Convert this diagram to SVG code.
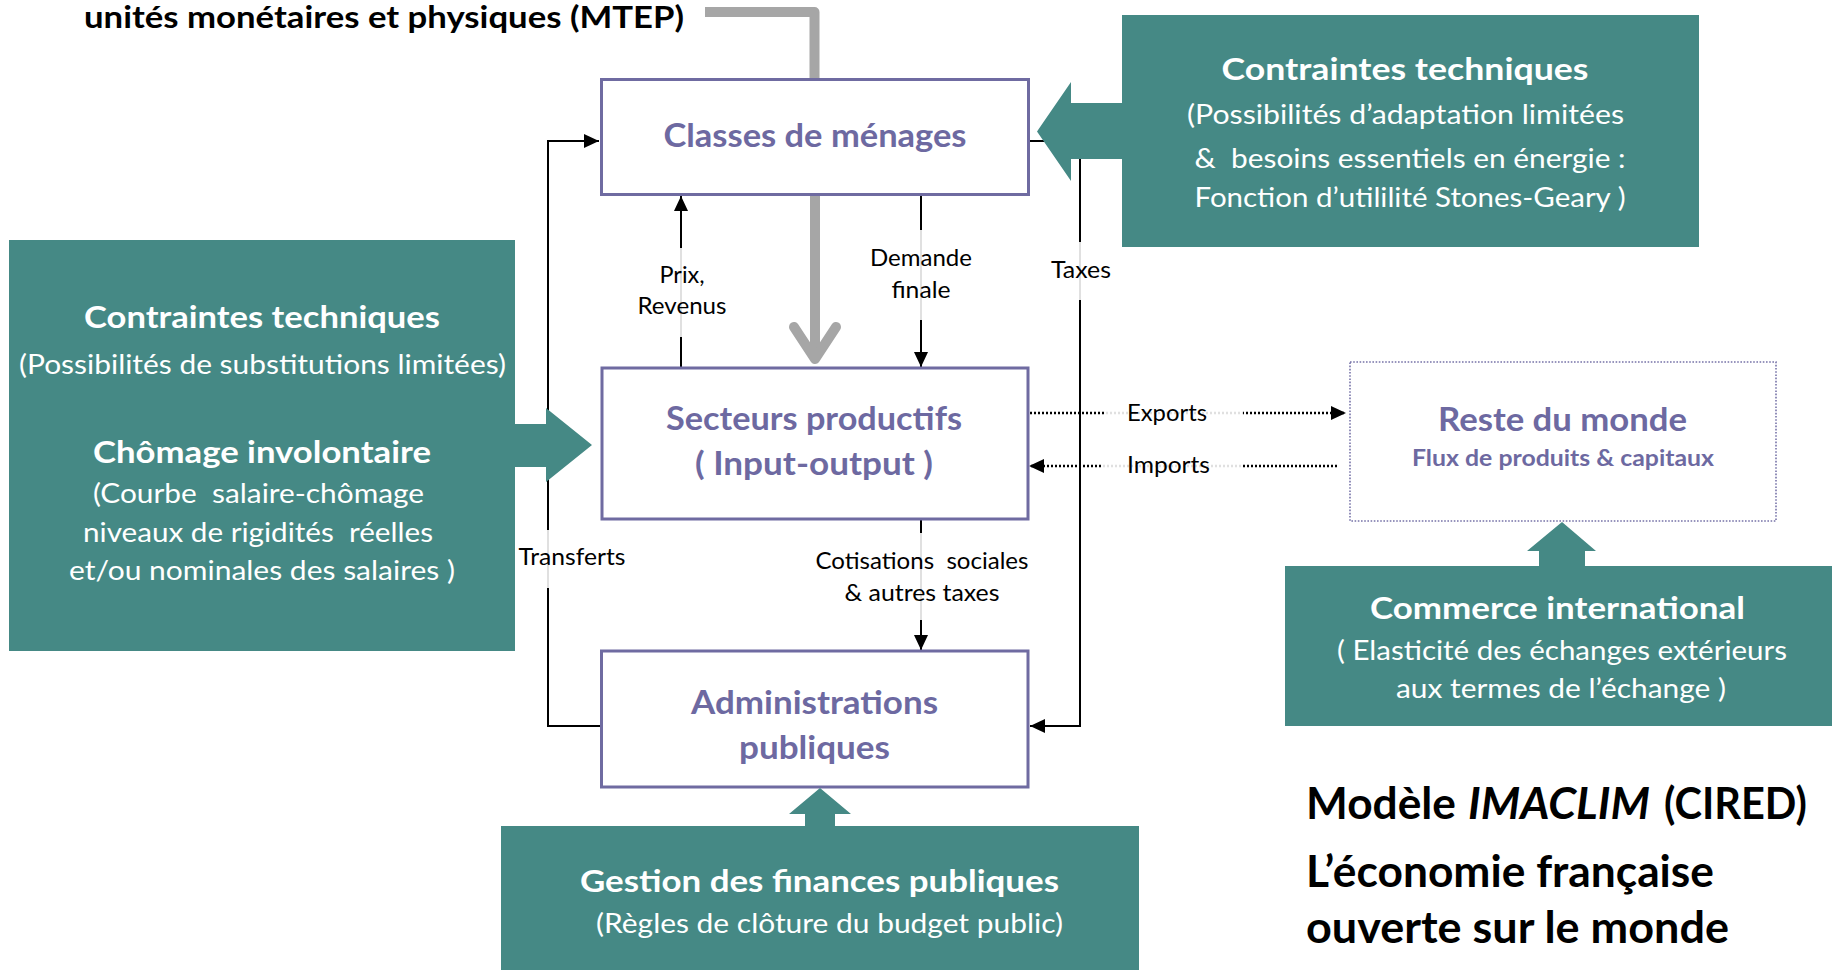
<svg xmlns="http://www.w3.org/2000/svg" width="1832" height="970" viewBox="0 0 1832 970">
<style>
  text { font-family: Lato, "Liberation Sans", sans-serif; }
  .node { fill: #ffffff; stroke: #6f6ba1; stroke-width: 3; }
  .ntitle { font-size: 32px; font-weight: bold; fill: #6d69a1; text-anchor: middle; }
  .nsub { font-size: 23px; font-weight: bold; fill: #6d69a1; text-anchor: middle; }
  .teal { fill: #458985; }
  .tt { font-size: 31px; font-weight: bold; fill: #ffffff; text-anchor: middle; }
  .ts { font-size: 27px; fill: #ffffff; text-anchor: middle; }
  .conn { fill: none; stroke: #000000; stroke-width: 2; }
  .dot { fill: none; stroke: #000000; stroke-width: 2.5; stroke-dasharray: 2 2; }
  .lbl { font-size: 23px; fill: #000000; text-anchor: middle; }
  .lblbg { fill: #ffffff; fill-opacity: 0.88; }
  .grey { fill: none; stroke: #a6a6a6; stroke-width: 10; }
  .big { font-size: 43px; font-weight: bold; fill: #000000; }
</style>
<defs>
  <marker id="ah" markerUnits="userSpaceOnUse" markerWidth="16" markerHeight="14" refX="15" refY="7" orient="auto">
    <path d="M0,0 L15,7 L0,14 z" fill="#000000"/>
  </marker>
</defs>

<rect x="0" y="0" width="1832" height="970" fill="#ffffff"/>

<!-- title -->
<text x="84" y="28" font-size="31" font-weight="bold" fill="#000000" textLength="600" lengthAdjust="spacingAndGlyphs">unités monétaires et physiques (MTEP)</text>

<!-- grey thick energy flow -->
<g id="energy-flow">
  <path class="grey" d="M705,12 H814.5 V80" stroke-linejoin="round"/>
  <path class="grey" d="M815,194 V358"/>
  <path class="grey" d="M794,327 L815,359 L836,327" stroke-width="11" stroke-linecap="round" stroke-linejoin="round"/>
</g>

<!-- connectors -->
<g id="connectors">
  <path class="conn" d="M601,726 H548 V141 H599" marker-end="url(#ah)"/>
  <path class="conn" d="M681,367 V196" marker-end="url(#ah)"/>
  <path class="conn" d="M921,196 V367" marker-end="url(#ah)"/>
  <path class="conn" d="M1029,141 H1080 V726 H1030" marker-end="url(#ah)"/>
  <path class="conn" d="M921,520 V650" marker-end="url(#ah)"/>
  <path class="dot" d="M1030,413 H1346" marker-end="url(#ah)"/>
  <path class="dot" d="M1337,466 H1029" marker-end="url(#ah)"/>

  <rect class="lblbg" x="660" y="248" width="44" height="89"/>
  <text class="lbl" x="682" y="283" textLength="45" lengthAdjust="spacingAndGlyphs">Prix,</text>
  <text class="lbl" x="682" y="314" textLength="89" lengthAdjust="spacingAndGlyphs">Revenus</text>

  <rect class="lblbg" x="900" y="230" width="42" height="90"/>
  <text class="lbl" x="921" y="266" textLength="102" lengthAdjust="spacingAndGlyphs">Demande</text>
  <text class="lbl" x="921" y="298" textLength="59" lengthAdjust="spacingAndGlyphs">finale</text>

  <rect class="lblbg" x="1060" y="242" width="40" height="58"/>
  <text class="lbl" x="1081" y="278" textLength="60" lengthAdjust="spacingAndGlyphs">Taxes</text>

  <rect class="lblbg" x="530" y="530" width="36" height="58"/>
  <text class="lbl" x="572" y="565" textLength="107" lengthAdjust="spacingAndGlyphs">Transferts</text>

  <rect class="lblbg" x="900" y="533" width="42" height="87"/>
  <text class="lbl" x="922" y="569" textLength="213" lengthAdjust="spacingAndGlyphs" xml:space="preserve">Cotisations  sociales</text>
  <text class="lbl" x="922" y="601" textLength="155" lengthAdjust="spacingAndGlyphs">&amp; autres taxes</text>

  <rect class="lblbg" x="1105" y="403" width="138" height="20"/>
  <text class="lbl" x="1167" y="421" textLength="80" lengthAdjust="spacingAndGlyphs">Exports</text>

  <rect class="lblbg" x="1103" y="456" width="140" height="20"/>
  <text class="lbl" x="1168.5" y="473" textLength="83" lengthAdjust="spacingAndGlyphs">Imports</text>
</g>

<!-- nodes -->
<g id="classes-menages">
  <rect class="node" x="601.5" y="79.5" width="427" height="115"/>
  <text class="ntitle" x="815" y="147" textLength="303" lengthAdjust="spacingAndGlyphs">Classes de ménages</text>
</g>

<g id="secteurs-productifs">
  <rect class="node" x="602" y="368" width="426" height="151"/>
  <text class="ntitle" x="814" y="430" textLength="296" lengthAdjust="spacingAndGlyphs">Secteurs productifs</text>
  <text class="ntitle" x="814" y="475" textLength="238" lengthAdjust="spacingAndGlyphs">( Input-output )</text>
</g>

<g id="administrations-publiques">
  <rect class="node" x="601.5" y="651" width="426.5" height="136"/>
  <text class="ntitle" x="814.5" y="714" textLength="247" lengthAdjust="spacingAndGlyphs">Administrations</text>
  <text class="ntitle" x="814.5" y="759" textLength="151" lengthAdjust="spacingAndGlyphs">publiques</text>
</g>

<g id="reste-du-monde">
  <rect x="1350" y="362" width="426" height="159" fill="#ffffff" stroke="#7773a8" stroke-width="1.6" stroke-dasharray="1.6 1.6"/>
  <text class="ntitle" x="1562.5" y="431" textLength="249" lengthAdjust="spacingAndGlyphs">Reste du monde</text>
  <text class="nsub" x="1563" y="466" textLength="302" lengthAdjust="spacingAndGlyphs">Flux de produits &amp; capitaux</text>
</g>

<!-- constraint blocks -->
<g id="contraintes-menages">
  <rect class="teal" x="1122" y="15" width="577" height="232"/>
  <polygon class="teal" points="1123,103 1071,103 1071,82 1037,131.5 1071,181 1071,159 1123,159"/>
  <text class="tt" x="1405" y="80" textLength="367" lengthAdjust="spacingAndGlyphs">Contraintes techniques</text>
  <text class="ts" x="1405.5" y="124" textLength="437" lengthAdjust="spacingAndGlyphs">(Possibilités d’adaptation limitées</text>
  <text class="ts" x="1410" y="168" textLength="431" lengthAdjust="spacingAndGlyphs" xml:space="preserve">&amp;  besoins essentiels en énergie :</text>
  <text class="ts" x="1410" y="207" textLength="431" lengthAdjust="spacingAndGlyphs">Fonction d’utililité Stones-Geary )</text>
</g>

<g id="contraintes-secteurs">
  <rect class="teal" x="9" y="240" width="506" height="411"/>
  <polygon class="teal" points="514,424 546,424 546,408 592,445 546,482 546,467 514,467"/>
  <text class="tt" x="262" y="328" textLength="356" lengthAdjust="spacingAndGlyphs">Contraintes techniques</text>
  <text class="ts" x="262.5" y="374" textLength="487" lengthAdjust="spacingAndGlyphs">(Possibilités de substitutions limitées)</text>
  <text class="tt" x="262" y="463" textLength="338" lengthAdjust="spacingAndGlyphs">Chômage involontaire</text>
  <text class="ts" x="258.5" y="503" textLength="331" lengthAdjust="spacingAndGlyphs" xml:space="preserve">(Courbe  salaire-chômage</text>
  <text class="ts" x="258" y="542" textLength="350" lengthAdjust="spacingAndGlyphs" xml:space="preserve">niveaux de rigidités  réelles</text>
  <text class="ts" x="262" y="580" textLength="386" lengthAdjust="spacingAndGlyphs">et/ou nominales des salaires )</text>
</g>

<g id="commerce-international">
  <rect class="teal" x="1285" y="566" width="547" height="160"/>
  <polygon class="teal" points="1539,567 1539,551 1527,551 1562,522 1596,551 1585,551 1585,567"/>
  <text class="tt" x="1557.5" y="619" textLength="375" lengthAdjust="spacingAndGlyphs">Commerce international</text>
  <text class="ts" x="1562" y="660" textLength="450" lengthAdjust="spacingAndGlyphs">( Elasticité des échanges extérieurs</text>
  <text class="ts" x="1561" y="698" textLength="330" lengthAdjust="spacingAndGlyphs">aux termes de l’échange )</text>
</g>

<g id="gestion-finances">
  <rect class="teal" x="501" y="826" width="638" height="144"/>
  <polygon class="teal" points="805,827 805,814 789,814 820,788 851,814 835,814 835,827"/>
  <text class="tt" x="819.5" y="892" textLength="479" lengthAdjust="spacingAndGlyphs">Gestion des finances publiques</text>
  <text class="ts" x="829.5" y="933" textLength="467" lengthAdjust="spacingAndGlyphs">(Règles de clôture du budget public)</text>
</g>

<!-- caption -->
<g id="caption">
  <text class="big" y="819"><tspan x="1306" textLength="150" lengthAdjust="spacingAndGlyphs">Modèle</tspan><tspan x="1468" font-style="italic" textLength="182" lengthAdjust="spacingAndGlyphs">IMACLIM</tspan><tspan x="1664" textLength="143" lengthAdjust="spacingAndGlyphs">(CIRED)</tspan></text>
  <text class="big" x="1306" y="887" textLength="408" lengthAdjust="spacingAndGlyphs">L’économie française</text>
  <text class="big" x="1306" y="943" textLength="423" lengthAdjust="spacingAndGlyphs">ouverte sur le monde</text>
</g>
</svg>
